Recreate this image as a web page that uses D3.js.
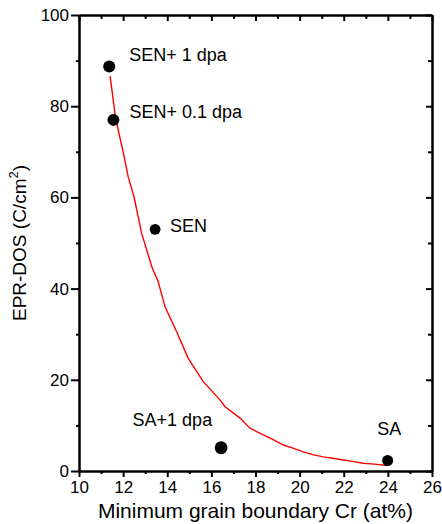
<!DOCTYPE html>
<html>
<head>
<meta charset="utf-8">
<script src="https://cdn.jsdelivr.net/npm/d3@7"></script>
<style>
  html, body { margin: 0; padding: 0; background: #fff; }
  svg { display: block; font-family: "Liberation Sans", Arial, sans-serif; }
</style>
</head>
<body>
<svg id="chart" width="442" height="524"></svg>
<script>
// Measured samples: minimum grain-boundary Cr vs. EPR degree of sensitization
const sampleNames = ["SEN+ 1 dpa", "SEN+ 0.1 dpa", "SEN", "SA+1 dpa", "SA"];
const sampleCr = [11.37, 11.56, 13.45, 16.44, 23.99];
const sampleDos = [88.7, 77.0, 53.0, 5.1, 2.3];

// Fitted trend curve
const fitCr = [11.41, 11.66, 12.0, 12.23, 12.49, 12.84, 13.30, 13.59, 13.90, 14.43, 14.95,
               15.63, 16.39, 16.62, 17.30, 17.75, 18.35, 18.8, 19.26, 19.7, 20.17, 20.6,
               21.07, 21.5, 21.98, 22.4, 22.88, 23.4, 23.95];
const fitDos = [86.6, 77.3, 70.0, 64.5, 60.2, 52.1, 44.8, 41.5, 36.0, 30.5, 24.7,
                19.6, 15.6, 14.1, 11.6, 9.4, 7.9, 6.9, 5.7, 5.0, 4.2, 3.6,
                3.1, 2.8, 2.4, 2.1, 1.7, 1.5, 1.2];

// Axis ticks
const xMajor = [10, 12, 14, 16, 18, 20, 22, 24, 26];
const xMinor = [11, 13, 15, 17, 19, 21, 23, 25];
const yMajor = [0, 20, 40, 60, 80, 100];
const yMinor = [10, 30, 50, 70, 90];

const xTitle = "Minimum grain boundary Cr (at%)";

// Marker sizes and label offsets (px) per sample
const markerR = {"SEN+ 1 dpa": 6, "SEN+ 0.1 dpa": 6, "SEN": 5.4, "SA+1 dpa": 6.4, "SA": 5.5};
const labelOffset = {
  "SEN+ 1 dpa": [20, -6],
  "SEN+ 0.1 dpa": [16, -2.3],
  "SEN": [15, 2.4],
  "SA+1 dpa": [-88.5, -22],
  "SA": [-10.5, -26]
};

const svg = d3.select("#chart");
const plotL = 79, plotR = 432, plotT = 15, plotB = 471;

const x = d3.scaleLinear().domain([10, 26]).range([plotL, plotR]);
const y = d3.scaleLinear().domain([0, 100]).range([plotB, plotT]);

function styleAxis(g) {
  g.selectAll("path.domain").attr("stroke", "#000").attr("stroke-width", 2);
  g.selectAll(".tick line").attr("stroke", "#000").attr("stroke-width", 2);
  g.selectAll(".tick text").attr("fill", "#000").attr("font-size", 17)
    .attr("font-family", "Liberation Sans, Arial, sans-serif");
}

// Bottom axis: major with labels, minor without
const gxMinor = svg.append("g").attr("transform", `translate(0,${plotB})`)
  .call(d3.axisBottom(x).tickValues(xMinor).tickSize(3).tickSizeOuter(0).tickFormat(""));
styleAxis(gxMinor);
const gx = svg.append("g").attr("transform", `translate(0,${plotB})`)
  .call(d3.axisBottom(x).tickValues(xMajor).tickSize(6).tickSizeOuter(0).tickPadding(4).tickFormat(d3.format("d")));
styleAxis(gx);
gx.selectAll(".tick text").attr("dy", "0.71em");

// Left axis
const gyMinor = svg.append("g").attr("transform", `translate(${plotL},0)`)
  .call(d3.axisLeft(y).tickValues(yMinor).tickSize(3).tickSizeOuter(0).tickFormat(""));
styleAxis(gyMinor);
const gy = svg.append("g").attr("transform", `translate(${plotL},0)`)
  .call(d3.axisLeft(y).tickValues(yMajor).tickSize(8).tickSizeOuter(0).tickPadding(2).tickFormat(d3.format("d")));
styleAxis(gy);

// Top axis: ticks hang into the plot
const gtMinor = svg.append("g").attr("transform", `translate(0,${plotT})`)
  .call(d3.axisBottom(x).tickValues(xMinor).tickSize(4).tickSizeOuter(0).tickFormat(""));
styleAxis(gtMinor);
const gt = svg.append("g").attr("transform", `translate(0,${plotT})`)
  .call(d3.axisBottom(x).tickValues(xMajor).tickSize(6).tickSizeOuter(0).tickFormat(""));
styleAxis(gt);

// Right axis: ticks point into the plot
const grMinor = svg.append("g").attr("transform", `translate(${plotR},0)`)
  .call(d3.axisLeft(y).tickValues(yMinor).tickSize(4).tickSizeOuter(0).tickFormat(""));
styleAxis(grMinor);
const gr = svg.append("g").attr("transform", `translate(${plotR},0)`)
  .call(d3.axisLeft(y).tickValues(yMajor).tickSize(6).tickSizeOuter(0).tickFormat(""));
styleAxis(gr);

// Fitted curve
const fit = fitCr.map((c, i) => [c, fitDos[i]]);
svg.append("path")
  .datum(fit)
  .attr("fill", "none")
  .attr("stroke", "#ff0000")
  .attr("stroke-width", 1.4)
  .attr("d", d3.line().x(d => x(d[0])).y(d => y(d[1])));

// Sample markers
const samples = sampleNames.map((n, i) => ({name: n, cr: sampleCr[i], dos: sampleDos[i]}));
svg.append("g").selectAll("circle")
  .data(samples)
  .join("circle")
  .attr("cx", d => x(d.cr))
  .attr("cy", d => y(d.dos))
  .attr("r", d => markerR[d.name])
  .attr("fill", "#000");

// Sample labels
svg.append("g").selectAll("text")
  .data(samples)
  .join("text")
  .attr("x", d => x(d.cr) + labelOffset[d.name][0])
  .attr("y", d => y(d.dos) + labelOffset[d.name][1])
  .attr("font-size", 18)
  .attr("fill", "#000")
  .text(d => d.name);

// Axis titles
svg.append("text")
  .attr("x", (plotL + plotR) / 2)
  .attr("y", 518)
  .attr("text-anchor", "middle")
  .attr("font-size", 21)
  .attr("fill", "#000")
  .text(xTitle);

const yt = svg.append("text")
  .attr("transform", `translate(26,${(plotT + plotB) / 2}) rotate(-90)`)
  .attr("text-anchor", "middle")
  .attr("font-size", 19)
  .attr("fill", "#000");
yt.append("tspan").text("EPR-DOS (C/cm");
yt.append("tspan").attr("font-size", 13).attr("dy", -8).text("2");
yt.append("tspan").attr("dy", 8).text(")");
</script>
</body>
</html>
